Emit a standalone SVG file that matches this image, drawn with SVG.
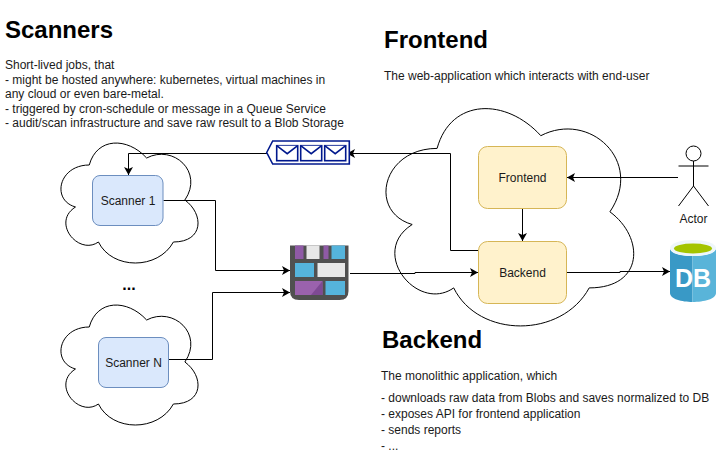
<svg xmlns="http://www.w3.org/2000/svg" width="717" height="456" viewBox="0 0 717 456">
<style>
text{font-family:"Liberation Sans",Arial,sans-serif;fill:#1a1a1a}
.h{font-size:24px;font-weight:bold;fill:#000}
.t{font-size:12px}
.c{font-size:12px;text-anchor:middle}
.cloud{fill:#fff;stroke:#000;stroke-width:1}
.blue{fill:#dae8fc;stroke:#6c8ebf}
.yel{fill:#fff2cc;stroke:#d6b656}
.e{fill:none;stroke:#000;stroke-width:1}
.env{fill:#fff;stroke:#00188d;stroke-width:1.6}
</style>
<defs>
<marker id="a" markerWidth="10" markerHeight="10" refX="8" refY="4.500" orient="auto" markerUnits="userSpaceOnUse"><path d="M0 0L8 4.500L0 9L2 4.500Z" fill="#000"/></marker>
<path id="cl" d="M38.25 35C7.65 35 0 70 24.48 77C0 92.4 27.54 126 47.43 112C61.2 140 107.1 140 122.4 112C153 112 153 84 133.88 70C153 42 122.4 14 95.63 28C76.5 7 45.9 7 38.25 35Z"/>
<g id="envi"><rect x="0" y="0" width="21" height="15" class="env"/><path d="M0 0L10.5 8L21 0" class="env" fill="none"/></g>
</defs>
<rect width="717" height="456" fill="#fff"/>
<g id="cloud-scanner1"><use href="#cl" class="cloud" x="51" y="130"/></g>
<g id="cloud-scannerN"><use href="#cl" class="cloud" x="51" y="292"/></g>
<g id="cloud-app"><path class="cloud" d="M437.1 148.4C381.8 148.4 368 211.8 412.2 224.5C368 252.4 417.8 313.2 453.7 287.9C478.6 338.6 561.6 338.6 589.2 287.9C644.5 287.9 644.5 237.2 609.9 211.8C644.5 161.1 589.2 110.4 540.8 135.7C506.3 97.7 451 97.7 437.1 148.4Z"/></g>
<g id="connectors">
<path class="e" d="M267 153.500H128.500V175" marker-end="url(#a)"/>
<path class="e" d="M163.500 200.500H215.500V270.500H290" marker-end="url(#a)"/>
<path class="e" d="M168.500 359.500H212.500V292.500H290" marker-end="url(#a)"/>
<path class="e" d="M350 273.500H415V272.500H478" marker-end="url(#a)"/>
<path class="e" d="M478.500 250.500H450.500V153.500H347" marker-end="url(#a)"/>
<path class="e" d="M678 177.500H567" marker-end="url(#a)"/>
<path class="e" d="M522.500 208.500V241" marker-end="url(#a)"/>
<path class="e" d="M567 272.500H620V271.500H670" marker-end="url(#a)"/>
</g>
<g id="scanner1"><rect class="blue" x="92.500" y="175.500" width="70.500" height="50" rx="7.500"/><text class="c" x="128" y="205">Scanner 1</text></g>
<g id="scannerN"><rect class="blue" x="98.500" y="337.500" width="70" height="50" rx="7.500"/><text class="c" x="133.500" y="367">Scanner N</text></g>
<g id="frontend"><rect class="yel" x="478.500" y="146.500" width="88" height="62" rx="9"/><text class="c" x="522.500" y="182">Frontend</text></g>
<g id="backend"><rect class="yel" x="478.500" y="241.500" width="88" height="62" rx="9"/><text class="c" x="522.500" y="277">Backend</text></g>
<g id="queue">
<path d="M266.700 152.500L272.700 141H349.300V164H272.700Z" fill="#fff" stroke="#00188d" stroke-width="1.600"/>
<use href="#envi" x="276.700" y="145.700"/><use href="#envi" x="300.700" y="145.700"/><use href="#envi" x="324.700" y="145.700"/>
</g>
<g id="blob">
<path d="M290 245.500H348.500V291Q348.500 300 339.500 300H299Q290 300 290 291Z" fill="#505050"/>
<rect x="295" y="245.500" width="8.500" height="13.500" fill="#8f5aa6"/>
<rect x="306.500" y="245.500" width="13" height="13.500" fill="#e8e8e8"/>
<rect x="323.500" y="245.500" width="5" height="13.500" fill="#8f5aa6"/>
<rect x="331.500" y="245.500" width="13.500" height="13.500" fill="#55b4dc"/>
<rect x="295" y="263" width="19" height="14" fill="#55b4dc"/>
<rect x="317.500" y="263" width="27.500" height="14" fill="#e8e8e8"/>
<rect x="295" y="281" width="27.500" height="14" fill="#9a62ad"/>
<path d="M311 295L322.500 281V295Z" fill="#7e4a94"/>
<rect x="325.500" y="281" width="19.500" height="14" fill="#55b4dc"/>
</g>
<g id="database">
<path d="M670 248V293C670 299 682 302 692.500 302V256C682 256 670 254 670 248Z" fill="#3999c6"/>
<path d="M716 248V293C716 299 704 302 692.500 302V256C704 256 716 254 716 248Z" fill="#59b4d9"/>
<ellipse cx="693" cy="248" rx="23" ry="8" fill="#eef6fa"/>
<ellipse cx="693" cy="248.500" rx="19" ry="5" fill="#a4c400"/>
<text x="693" y="286.500" text-anchor="middle" font-size="25" font-weight="bold" style="fill:#fff">DB</text>
</g>
<g id="actor" fill="none" stroke="#000">
<circle cx="693.500" cy="153.500" r="7.500" fill="#fff"/>
<path d="M693.500 161V186M678.500 166H708.500M678.500 206L693.500 186L708.500 206"/>
<text class="c" x="693.500" y="223" stroke="none">Actor</text>
</g>
<g id="labels">
<text class="h" x="5" y="38">Scanners</text>
<text class="t" x="5" y="69">Short-lived jobs, that</text>
<text class="t" x="5" y="84">- might be hosted anywhere: kubernetes, virtual machines in</text>
<text class="t" x="5" y="98">any cloud or even bare-metal.</text>
<text class="t" x="5" y="113">- triggered by cron-schedule or message in a Queue Service</text>
<text class="t" x="5" y="127">- audit/scan infrastructure and save raw result to a Blob Storage</text>
<text x="129" y="290" text-anchor="middle" font-size="16" font-weight="bold" style="fill:#000">...</text>
<text class="h" x="384" y="48">Frontend</text>
<text class="t" x="384" y="80">The web-application which interacts with end-user</text>
<text class="h" x="382" y="348">Backend</text>
<text class="t" x="381" y="380">The monolithic application, which</text>
<text class="t" x="381" y="402">- downloads raw data from Blobs and saves normalized to DB</text>
<text class="t" x="381" y="418">- exposes API for frontend application</text>
<text class="t" x="381" y="434">- sends reports</text>
<text class="t" x="381" y="450">- ...</text>
</g>
</svg>
